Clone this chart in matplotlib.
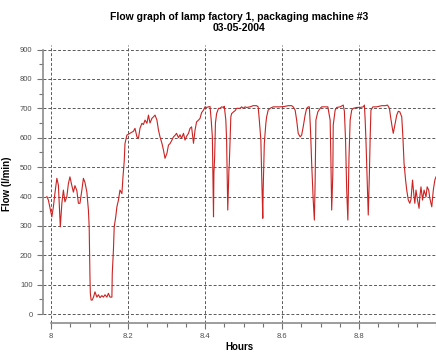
import matplotlib
matplotlib.use('Agg')
import matplotlib.pyplot as plt
from matplotlib.ticker import MultipleLocator

plt.rcParams['font.family'] = ['Liberation Sans', 'DejaVu Sans']

# flow readings, hours since midnight vs l/min
hours = [7.989, 7.993, 8.002, 8.006, 8.010, 8.015, 8.019, 8.024, 8.028, 8.032,
         8.036, 8.041, 8.045, 8.049, 8.054, 8.058, 8.062, 8.067, 8.071, 8.075,
         8.080, 8.084, 8.088, 8.093, 8.097, 8.099, 8.101, 8.102, 8.104, 8.107,
         8.111, 8.114, 8.119, 8.123, 8.127, 8.132, 8.136, 8.140, 8.145, 8.149,
         8.153, 8.158, 8.159, 8.162, 8.164, 8.168, 8.171, 8.175, 8.179, 8.184,
         8.187, 8.190, 8.192, 8.197, 8.205, 8.214, 8.218, 8.223, 8.227, 8.231,
         8.236, 8.240, 8.244, 8.249, 8.253, 8.257, 8.262, 8.266, 8.270, 8.275,
         8.279, 8.283, 8.288, 8.292, 8.296, 8.301, 8.305, 8.309, 8.314, 8.318,
         8.322, 8.326, 8.331, 8.335, 8.339, 8.344, 8.348, 8.352, 8.357, 8.361,
         8.365, 8.370, 8.374, 8.378, 8.383, 8.387, 8.391, 8.396, 8.400, 8.404,
         8.409, 8.413, 8.416, 8.419, 8.422, 8.423, 8.425, 8.427, 8.430, 8.435,
         8.439, 8.443, 8.448, 8.450, 8.454, 8.456, 8.459, 8.462, 8.463, 8.467,
         8.469, 8.474, 8.478, 8.482, 8.491, 8.495, 8.499, 8.504, 8.508, 8.517,
         8.525, 8.534, 8.538, 8.541, 8.545, 8.547, 8.550, 8.551, 8.554, 8.558,
         8.560, 8.564, 8.569, 8.577, 8.586, 8.595, 8.605, 8.616, 8.625, 8.629,
         8.634, 8.638, 8.642, 8.647, 8.651, 8.655, 8.660, 8.664, 8.668, 8.671,
         8.674, 8.677, 8.681, 8.684, 8.686, 8.688, 8.693, 8.699, 8.703, 8.712,
         8.719, 8.725, 8.727, 8.729, 8.732, 8.733, 8.738, 8.742, 8.751, 8.759,
         8.762, 8.765, 8.768, 8.771, 8.774, 8.777, 8.781, 8.785, 8.794, 8.803,
         8.811, 8.814, 8.816, 8.818, 8.822, 8.824, 8.827, 8.829, 8.831, 8.836,
         8.846, 8.859, 8.868, 8.874, 8.879, 8.882, 8.886, 8.889, 8.894, 8.898,
         8.902, 8.906, 8.911, 8.914, 8.917, 8.921, 8.924, 8.928, 8.932, 8.935,
         8.937, 8.939, 8.943, 8.945, 8.948, 8.952, 8.956, 8.958, 8.961, 8.965,
         8.969, 8.974, 8.977, 8.981, 8.984, 8.989, 8.993, 8.997, 9.000]
flow = [400, 388, 331, 365, 411, 462, 439, 297, 377, 422,
        382, 400, 444, 467, 437, 415, 437, 420, 377, 377,
        422, 462, 448, 415, 354, 297, 127, 71, 48, 48,
        61, 76, 58, 66, 56, 63, 58, 66, 58, 71,
        58, 58, 139, 218, 297, 331, 365, 388, 422, 410,
        470, 520, 580, 609, 615, 622, 632, 603, 598, 632,
        649, 645, 660, 649, 677, 650, 666, 671, 677, 660,
        626, 603, 581, 558, 530, 547, 575, 580, 592, 603,
        608, 615, 600, 610, 598, 615, 592, 605, 615, 632,
        637, 581, 626, 654, 660, 666, 685, 694, 705, 703,
        705, 706, 660, 603, 331, 480, 535, 650, 682, 700,
        700, 705, 703, 707, 660, 592, 354, 490, 510, 671,
        682, 688, 692, 700, 700, 705, 700, 705, 703, 705,
        709, 709, 705, 660, 592, 479, 326, 422, 581, 649,
        671, 694, 700, 705, 705, 705, 706, 709, 709, 705,
        694, 660, 615, 603, 609, 637, 677, 700, 705, 705,
        626, 513, 388, 320, 450, 660, 688, 700, 705, 705,
        705, 660, 520, 354, 480, 643, 694, 703, 705, 711,
        690, 592, 422, 320, 535, 660, 694, 700, 703, 703,
        705, 711, 660, 592, 422, 337, 480, 603, 694, 705,
        705, 709, 709, 711, 700, 671, 637, 615, 649, 677,
        690, 688, 671, 603, 513, 456, 422, 388, 377, 390,
        422, 456, 399, 377, 422, 388, 360, 399, 433, 388,
        422, 399, 433, 422, 394, 365, 422, 456, 467]

x_ticks = [8, 8.2, 8.4, 8.6, 8.8]
x_tick_labels = ['8', '8.2', '8.4', '8.6', '8.8']
y_ticks = [0, 100, 200, 300, 400, 500, 600, 700, 800, 900]

fig = plt.figure(figsize=(4.36, 3.54), dpi=100)
ax = fig.add_axes([0.0986, 0.0876, 0.9014, 0.785])

ax.plot(hours, flow, color='#cc2222', linewidth=0.8)

ax.set_xlim(7.979, 9.0)
ax.set_ylim(-30, 915)

for v in y_ticks:
    ax.axhline(v, color='0.35', linestyle=(0, (3, 2)), linewidth=0.7, zorder=0)
for h in x_ticks:
    ax.axvline(h, color='0.35', linestyle=(0, (3, 2)), linewidth=0.7, zorder=0)

ax.set_xticks(x_ticks)
ax.set_xticklabels(x_tick_labels)
ax.xaxis.set_minor_locator(MultipleLocator(0.05))
ax.set_yticks(y_ticks)
ax.yaxis.set_minor_locator(MultipleLocator(50))

for s in ['top', 'right']:
    ax.spines[s].set_visible(False)
ax.spines['left'].set_bounds(0, 900)
ax.spines['bottom'].set_bounds(8, 9)
for s in ['left', 'bottom']:
    ax.spines[s].set_color('0.55')
    ax.spines[s].set_linewidth(1.2)

ax.tick_params(which='both', direction='out', colors='0.45', labelsize=5.5,
               labelcolor='0.3', width=0.8)
ax.tick_params(which='major', length=4)
ax.tick_params(which='minor', length=3)
ax.tick_params(axis='x', pad=3)

ax.set_xlabel('Hours', fontsize=7, fontweight='bold', labelpad=2)
ax.set_ylabel('Flow (l/min)', fontsize=7, fontweight='bold', labelpad=6)
ax.set_title('Flow graph of lamp factory 1, packaging machine #3\n03-05-2004',
             fontsize=7.5, fontweight='bold', pad=10, linespacing=1.2)

fig.savefig('out.png', dpi=100)
